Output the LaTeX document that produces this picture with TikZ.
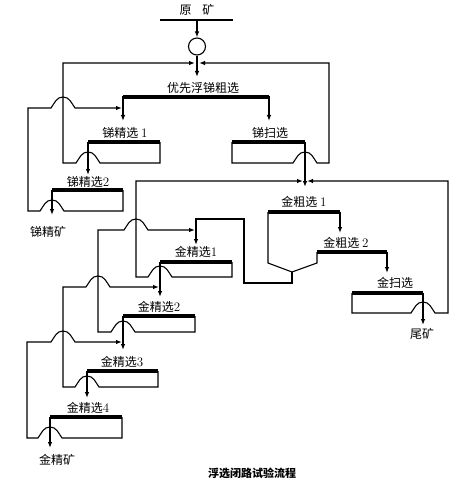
\documentclass[tikz,border=0pt]{standalone}
\usepackage{fontspec}
\newfontfamily\cjk{Noto Sans CJK SC}
\usetikzlibrary{calc, positioning, arrows.meta}
\newcommand{\dig}[1]{{\rmfamily\fontsize{13}{15}\selectfont #1}}

\tikzset{
  bar/.style={line width=3.6pt},
  flow/.style={line width=1.1pt},
  lbl/.style={font=\cjk\fontsize{12}{14}\selectfont, inner sep=0pt},
  humpL/.style={insert path={to[out=125,in=0] ++(-12,-11) to[out=180,in=55] ++(-12,11)}},
  humpR/.style={insert path={to[out=55,in=180] ++(12,-11) to[out=0,in=125] ++(12,11)}},
}

\begin{document}
\begin{tikzpicture}[x=1pt, y=-1pt, >={Latex[length=6pt,width=4.5pt]}]
  \useasboundingbox (0,0) rectangle (461,484);

  % 1. 原矿与磨矿
  \node[lbl] (ore) at (197,10) {原\hspace{11pt}矿};
  \draw[flow] (160,20) -- (233,20);
  \node[circle, draw, flow, minimum size=17pt, inner sep=0pt] (mill) at (197,46.5) {};
  \draw[flow,->] (197,20) -- (mill.north);
  \draw[flow,->] (mill.south) -- (197,77);

  % 2. 锑粗选
  \node[lbl] (sbr) at (203,88) {优先浮锑粗选};
  \draw[bar] (123,97) -- (269,97);
  \draw[flow,->] (123,96) -- (123,121);
  \draw[flow,->] (269,96) -- (269,121);

  % 3. 锑精选
  \node[lbl] (sbc1) at (125,133) {锑精选 \dig{1}};
  \draw[bar] (88,142) -- (160,142);
  \draw[flow,->] (160,142) -- (160,163) -- (100,163) [humpL] -- (63,163) -- (63,63) -- (195,63);
  \draw[flow,->] (88,142) -- (88,175);

  \node[lbl] (sbc2) at (88,182) {锑精选\dig{2}};
  \draw[bar] (52,190) -- (123,190);
  \draw[flow,->] (123,190) -- (123,211) -- (64,211) [humpL] -- (28,211) -- (28,108) -- (51,108) [humpR] -- (122,108);
  \draw[flow,->] (52,190) -- (52,215);
  \node[lbl] (sbcon) at (48,232) {锑精矿};

  % 4. 锑扫选
  \node[lbl] (sbs) at (270,133) {锑扫选};
  \draw[bar] (232,142) -- (305,142);
  \draw[flow,->] (232,142) -- (232,163) -- (293,163) [humpR] -- (329,163) -- (329,63) -- (199,63);
  \draw[flow,->] (305,142) -- (305,187);

  % 5. 金粗选
  \node[lbl] (aur1) at (304,202) {金粗选 \dig{1}};
  \draw[bar] (268,212) -- (340,212);
  \draw[flow] (268,212) -- (268,263) -- (292,272) -- (317,263) -- (317,252);
  \draw[bar] (317,252) -- (387,252);
  \draw[flow,->] (340,212) -- (340,233);
  \draw[flow,->] (292,272) -- (292,283) -- (244,283) -- (244,219) -- (196,219) -- (196,245);
  \node[lbl] (aur2) at (346,243) {金粗选 \dig{2}};
  \draw[flow,->] (387,252) -- (387,273);

  % 6. 金扫选
  \node[lbl] (aus) at (395,283) {金扫选};
  \draw[bar] (352,293) -- (423,293);
  \draw[flow,->] (352,293) -- (352,313) -- (411,313) [humpR] -- (448,313) -- (448,181) -- (307,181);
  \draw[flow,->] (423,293) -- (423,325);
  \node[lbl] (tail) at (422,334) {尾矿};

  % 7. 金精选
  \node[lbl] (auc1) at (196,252) {金精选\dig{1}};
  \draw[bar] (160,262) -- (232,262);
  \draw[flow,->] (232,262) -- (232,277) -- (172,277) [humpL] -- (136,277) -- (136,181) -- (303,181);
  \draw[flow,->] (160,262) -- (160,297);

  \node[lbl] (auc2) at (159,307) {金精选\dig{2}};
  \draw[bar] (123,316) -- (195,316);
  \draw[flow,->] (195,316) -- (195,332) -- (135,332) [humpL] -- (98,332) -- (98,230) -- (124,230) [humpR] -- (195,230);
  \draw[flow,->] (123,316) -- (123,350);

  \node[lbl] (auc3) at (122,362) {金精选\dig{3}};
  \draw[bar] (87,371) -- (158,371);
  \draw[flow,->] (158,371) -- (158,387) -- (99,387) [humpL] -- (63,387) -- (63,287) -- (86,287) [humpR] -- (159,287);
  \draw[flow,->] (87,371) -- (87,398);

  \node[lbl] (auc4) at (88,408) {金精选\dig{4}};
  \draw[bar] (50,417) -- (122,417);
  \draw[flow,->] (122,417) -- (122,438) -- (62,438) [humpL] -- (27,438) -- (27,342) -- (51,342) [humpR] -- (122,342);
  \draw[flow,->] (50,417) -- (50,448);
  \node[lbl] (aucon) at (57,460) {金精矿};

  % 8. 图题
  \node[lbl, font=\cjk\bfseries\fontsize{11}{13}\selectfont] (title) at (252,473) {浮选闭路试验流程};
\end{tikzpicture}
\end{document}
